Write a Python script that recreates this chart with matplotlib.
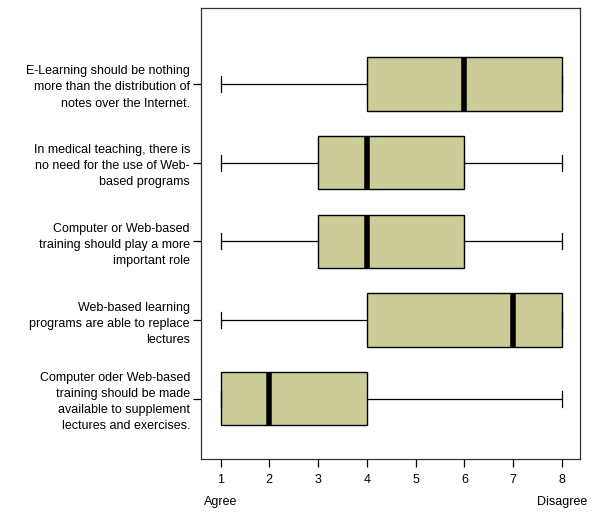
import matplotlib
matplotlib.use("Agg")
import matplotlib.pyplot as plt

plt.rcParams['font.family'] = ['Liberation Sans', 'DejaVu Sans']

# statements, top to bottom
labels = [
    "E-Learning should be nothing\nmore than the distribution of\nnotes over the Internet.",
    "In medical teaching, there is\nno need for the use of Web-\nbased programs",
    "Computer or Web-based\ntraining should play a more\nimportant role",
    "Web-based learning\nprograms are able to replace\nlectures",
    "Computer oder Web-based\ntraining should be made\navailable to supplement\nlectures and exercises.",
]
whislo = [1, 1, 1, 1, 1]
q1 = [4, 3, 3, 4, 1]
med = [6, 4, 4, 7, 2]
q3 = [8, 6, 6, 8, 4]
whishi = [8, 8, 8, 8, 8]
xticks = [1, 2, 3, 4, 5, 6, 7, 8]

stats = []
for i in range(len(labels)):
    stats.append(dict(whislo=whislo[i], q1=q1[i], med=med[i], q3=q3[i],
                      whishi=whishi[i], fliers=[], label=labels[i]))

fig = plt.figure(figsize=(6.0, 5.19), dpi=100)
ax = fig.add_axes([0.335, 0.1156, 0.6317, 0.869])

positions = list(range(1, len(labels) + 1))
ax.bxp(stats, positions=positions, vert=False, widths=0.68,
       patch_artist=True, showfliers=False,
       boxprops=dict(facecolor='#cccc99', edgecolor='black', linewidth=1.0),
       medianprops=dict(color='black', linewidth=4),
       whiskerprops=dict(color='black', linewidth=0.9),
       capprops=dict(color='black', linewidth=0.9),
       capwidths=0.2)

ax.set_ylim(5.766, 0.035)
ax.set_xlim(0.6, 8.37)
ax.set_xticks(xticks)
ax.set_xticklabels([str(t) for t in xticks], fontsize=9)
ax.tick_params(axis='both', length=6, width=0.9, colors='black')
ax.tick_params(axis='x', pad=5)
ax.tick_params(axis='y', labelsize=9, pad=2)
for t in ax.get_yticklabels():
    t.set_linespacing(1.45)
for s in ax.spines.values():
    s.set_color('#333333')
    s.set_linewidth(0.9)

ax.text(1, -0.082, "Agree", transform=ax.get_xaxis_transform(),
        ha='center', va='top', fontsize=9)
ax.text(8, -0.082, "Disagree", transform=ax.get_xaxis_transform(),
        ha='center', va='top', fontsize=9)

fig.savefig("out.png", dpi=100)
